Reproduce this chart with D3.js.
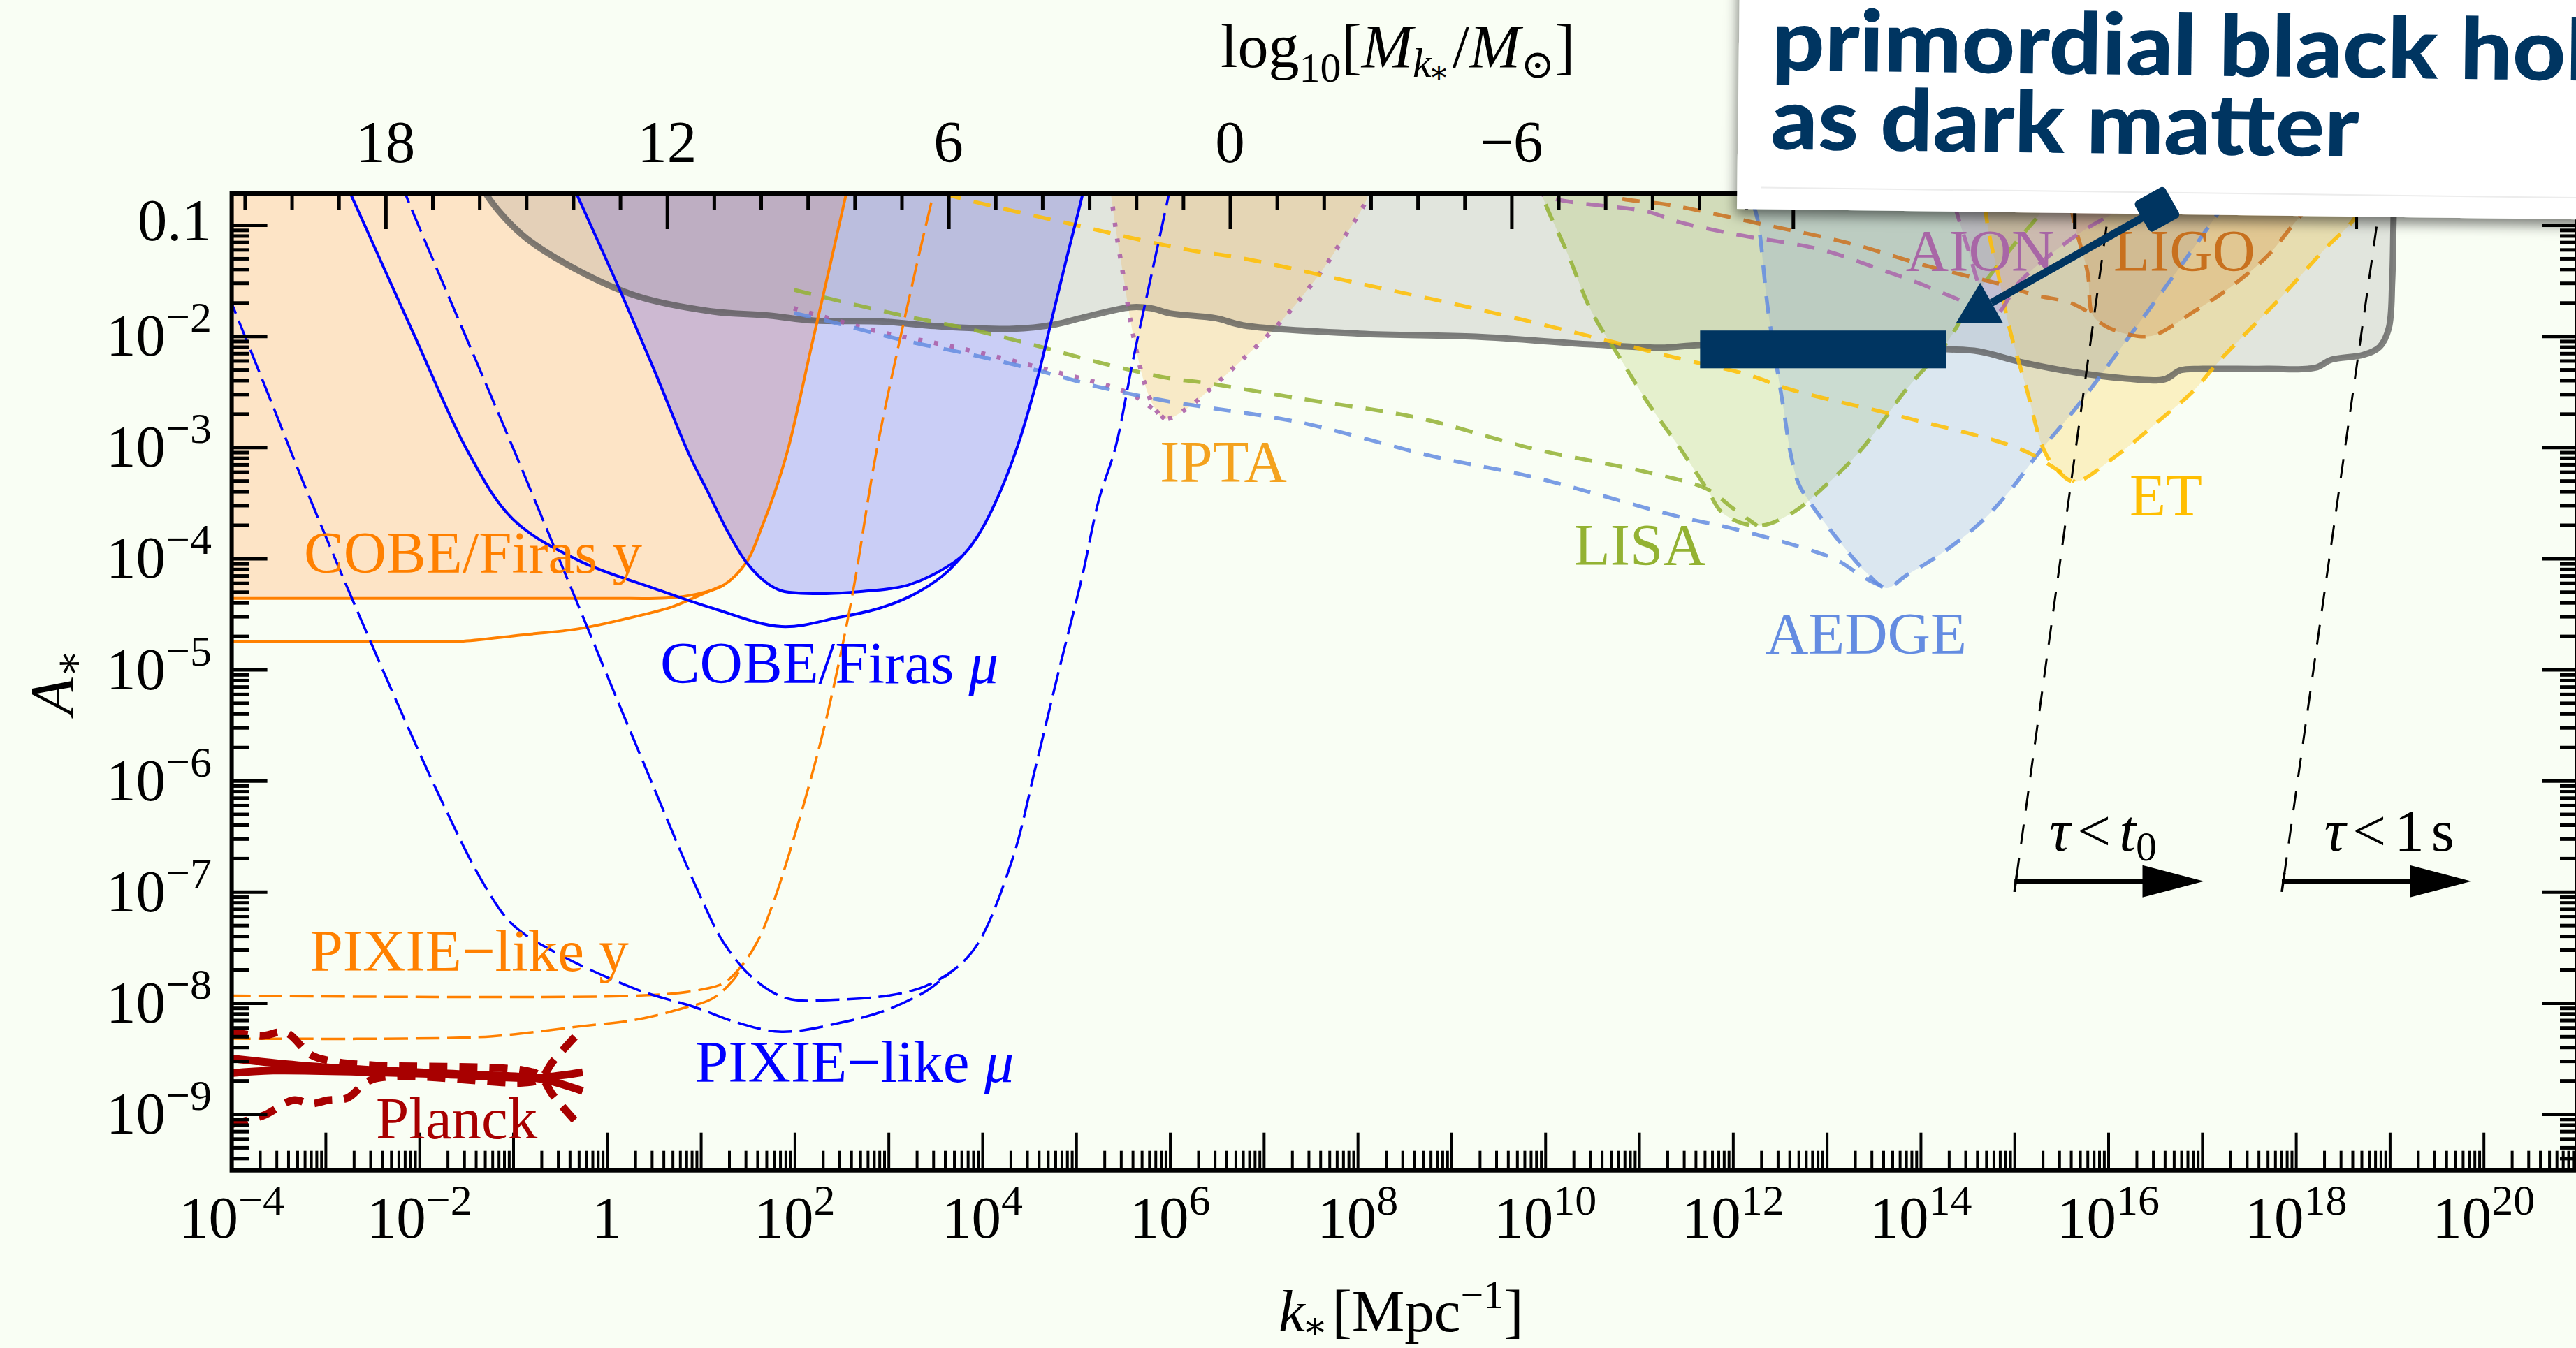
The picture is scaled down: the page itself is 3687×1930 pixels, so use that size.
<!DOCTYPE html>
<html>
<head>
<meta charset="utf-8">
<title>Power spectrum peak amplitude vs. scale</title>
<script src="https://cdn.jsdelivr.net/npm/d3@7"></script>
<style>
  html, body { margin: 0; padding: 0; background: #F9FEF4; }
  svg { display: block; }
  text { font-family: "Liberation Serif", "Times New Roman", "DejaVu Serif", serif; }
</style>
</head>
<body>
<svg id="fig" width="3687" height="1930"></svg>
<script>
// ---------------------------------------------------------------
// Curves: each point is [log10 k* / Mpc^-1, log10 A*]
// ---------------------------------------------------------------

// CMB spectral distortions: COBE/FIRAS y (filled) and its second curve
const cobeFirasY = [[-4.05,-4.36],[-2.0,-4.36],[0.0,-4.36],[0.63,-4.357],[0.94,-4.325],[1.245,-4.24],[1.49,-4.03],[1.65,-3.72],[1.8,-3.376],[1.935,-3.0],[2.18,-2.09],[2.377,-1.364],[2.55,-0.717],[2.6,-0.53]];
const cobeFirasYAlt = [[-4.05,-4.746],[-2.0,-4.746],[-1.53,-4.745],[-0.914,-4.69],[-0.296,-4.633],[0.322,-4.52],[0.694,-4.436],[0.94,-4.35],[1.245,-4.24]];

// COBE/FIRAS mu (filled) and its second curve
const cobeFirasMu = [[-0.43,-0.52],[-0.326,-0.717],[0.136,-1.584],[0.5,-2.3],[0.873,-3.061],[1.059,-3.376],[1.3,-3.78],[1.491,-4.042],[1.7,-4.22],[1.863,-4.293],[2.295,-4.318],[2.787,-4.293],[3.025,-4.272],[3.211,-4.24],[3.457,-4.155],[3.792,-3.973],[3.948,-3.803],[4.134,-3.508],[4.36,-3.03],[4.578,-2.412],[4.73,-1.886],[4.88,-1.364],[5.087,-0.66],[5.12,-0.52]];
const cobeFirasMuAlt = [[-2.8,-0.6],[-2.735,-0.717],[-2.05,-2.0],[-1.47,-3.06],[-1.0,-3.65],[-0.3,-4.02],[0.5,-4.27],[1.13,-4.45],[1.86,-4.614],[2.48,-4.53],[2.9,-4.45],[3.27,-4.325],[3.58,-4.155],[3.792,-3.973]];

// PIXIE-like forecasts
const pixieMu = [[-2.2,-0.6],[-2.15,-0.717],[-0.97,-3.07],[0.32,-5.70],[1.0,-7.05],[1.245,-7.46],[1.56,-7.78],[1.92,-7.96],[2.47,-7.97],[3.03,-7.93],[3.39,-7.85],[3.70,-7.70],[3.95,-7.47],[4.32,-6.71],[4.57,-5.87],[4.81,-5.03],[5.06,-4.18],[5.24,-3.48],[5.42,-3.0],[5.61,-2.2],[5.81,-1.42],[5.99,-0.717],[6.03,-0.55]];
const pixieMuAlt = [[-4.05,-1.6],[-3.565,-2.62],[-3.23,-3.33],[-2.52,-4.75],[-1.78,-6.15],[-1.3,-6.95],[-1.0,-7.3],[-0.54,-7.55],[0.32,-7.88],[0.94,-8.04],[1.4,-8.18],[1.86,-8.26],[2.48,-8.18],[2.96,-8.07],[3.39,-7.9],[3.58,-7.78],[3.70,-7.70]];
const pixieY = [[-4.05,-7.935],[0.32,-7.935],[0.94,-7.89],[1.245,-7.82],[1.45,-7.65],[1.62,-7.42],[1.75,-7.15],[1.923,-6.71],[2.295,-5.59],[2.6,-4.4],[2.88,-3.0],[3.29,-1.4],[3.48,-0.717],[3.53,-0.55]];
const pixieYAlt = [[-4.05,-8.321],[-2.15,-8.321],[-1.22,-8.30],[-0.296,-8.212],[0.322,-8.149],[0.81,-8.048],[1.126,-7.96],[1.35,-7.79],[1.45,-7.65]];

// Planck: two best-fit curves and the dashed envelope
const planckFitA = [[-4.02,-8.498],[-3.29,-8.561],[-2.493,-8.603],[-1.696,-8.635],[-0.899,-8.666],[-0.631,-8.697],[-0.259,-8.792]];
const planckFitB = [[-4.02,-8.634],[-3.558,-8.609],[-2.493,-8.624],[-1.696,-8.645],[-0.899,-8.676],[-0.631,-8.666],[-0.259,-8.624]];
const planckUpper = [[-4.02,-8.258],[-3.688,-8.297],[-3.424,-8.266],[-3.156,-8.467],[-2.895,-8.53],[-2.493,-8.561],[-0.899,-8.605],[-0.713,-8.656],[-0.579,-8.826],[-0.289,-9.109]];
const planckLower = [[-4.02,-9.095],[-3.662,-9.013],[-3.342,-8.875],[-3.156,-8.907],[-2.97,-8.875],[-2.768,-8.856],[-2.493,-8.687],[-0.899,-8.718],[-0.713,-8.687],[-0.579,-8.53],[-0.289,-8.258]];

// PBH abundance bound (grey)
const pbhBound = [[-1.37,-0.5],[-1.316,-0.68],[-0.914,-1.082],[-0.296,-1.415],[0.322,-1.641],[1.126,-1.779],[1.723,-1.815],[2.2,-1.86],[2.94,-1.87],[3.5,-1.91],[4.33,-1.935],[4.76,-1.898],[5.06,-1.836],[5.58,-1.741],[5.8,-1.75],[6.0,-1.796],[6.49,-1.84],[6.79,-1.905],[8.02,-1.978],[9.26,-2.006],[10.49,-2.075],[11.23,-2.104],[11.66,-2.08],[13.0,-2.1],[14.275,-2.119],[14.618,-2.137],[15.061,-2.232],[15.642,-2.326],[16.152,-2.379],[16.6,-2.389],[16.77,-2.307],[17.008,-2.295],[17.693,-2.295],[18.207,-2.285],[18.378,-2.213],[18.72,-2.169],[18.893,-2.097],[18.99,-1.93],[19.026,-1.509],[19.04,-0.967],[19.05,-0.6],[19.05,-0.4]];

// GW detector sensitivities: region and low-k tail
const iptaRegion = [[5.34,-0.55],[5.37,-0.717],[5.43,-1.082],[5.505,-1.469],[5.58,-1.867],[5.672,-2.244],[5.732,-2.433],[5.82,-2.62],[5.944,-2.745],[6.159,-2.664],[6.487,-2.433],[6.786,-2.2],[7.158,-1.892],[7.59,-1.446],[7.835,-1.138],[8.08,-0.8],[8.16,-0.6]];
const iptaTail = [[1.99,-1.75],[2.45,-1.86],[2.906,-1.962],[3.785,-2.113],[4.686,-2.301],[5.564,-2.513],[5.765,-2.621],[5.944,-2.745]];
const lisaRegion = [[9.92,-0.55],[9.96,-0.717],[10.247,-1.276],[10.493,-1.779],[10.798,-2.2],[11.11,-2.621],[11.417,-2.986],[11.723,-3.376],[11.894,-3.596],[12.259,-3.707],[12.624,-3.596],[12.99,-3.342],[13.36,-3.03],[13.845,-2.483],[14.275,-2.062],[14.58,-1.641],[14.827,-1.358],[15.066,-1.107],[15.266,-0.904],[15.385,-0.717],[15.45,-0.6]];
const lisaTail = [[1.995,-1.584],[2.451,-1.679],[3.151,-1.815],[3.851,-1.935],[4.581,-2.087],[5.273,-2.244],[6.003,-2.381],[6.368,-2.42],[7.404,-2.565],[8.64,-2.735],[9.9,-3.02],[11.112,-3.23],[11.723,-3.376],[12.0,-3.55],[12.259,-3.707]];
const aedgeRegion = [[12.16,-0.55],[12.18,-0.717],[12.26,-0.94],[12.376,-1.78],[12.533,-2.62],[12.62,-3.08],[12.7,-3.33],[12.81,-3.483],[13.055,-3.763],[13.42,-4.127],[13.635,-4.268],[13.845,-4.155],[14.217,-3.96],[14.64,-3.677],[14.946,-3.398],[15.25,-3.061],[15.68,-2.621],[16.294,-1.924],[16.9,-1.22],[17.146,-0.924],[17.33,-0.717],[17.4,-0.55]];
const aedgeTail = [[1.995,-1.792],[2.451,-1.886],[3.151,-2.037],[3.851,-2.161],[4.581,-2.307],[5.273,-2.464],[6.003,-2.59],[6.368,-2.638],[7.404,-2.78],[8.826,-3.087],[9.876,-3.27],[11.4,-3.62],[12.01,-3.734],[12.74,-3.904],[13.11,-4.017],[13.42,-4.184],[13.635,-4.268]];
const etRegion = [[14.66,-0.55],[14.67,-0.717],[14.73,-1.082],[14.827,-1.446],[14.946,-1.924],[15.132,-2.483],[15.31,-3.018],[15.45,-3.2],[15.64,-3.31],[16.05,-3.1],[16.6,-2.72],[16.9,-2.5],[17.21,-2.2],[17.82,-1.67],[18.305,-1.22],[18.617,-0.95],[18.75,-0.717],[18.82,-0.6]];
const etTail = [[3.3,-0.6],[3.39,-0.66],[5.118,-1.025],[6.168,-1.22],[6.785,-1.302],[8.021,-1.528],[9.257,-1.754],[10.493,-2.005],[11.417,-2.2],[12.147,-2.345],[12.624,-2.483],[13.845,-2.735],[15.066,-3.018],[15.45,-3.2],[15.64,-3.31]];
const ligoRegion = [[15.55,-0.55],[15.58,-0.717],[15.64,-0.99],[15.78,-1.43],[15.83,-1.804],[15.95,-1.9],[16.152,-1.972],[16.394,-2.004],[16.53,-1.98],[16.905,-1.784],[17.285,-1.572],[17.694,-1.281],[18.0,-0.967],[18.25,-0.717],[18.33,-0.6]];
const ligoTail = [[10.6,-0.6],[10.66,-0.717],[11.4,-0.83],[12.316,-0.994],[13.232,-1.163],[14.08,-1.371],[14.85,-1.534],[15.237,-1.635],[15.587,-1.697],[15.83,-1.804]];
const aionRegion = [[14.3,-0.55],[14.33,-0.717],[14.5,-1.2],[14.65,-1.6],[14.8,-1.8],[15.066,-1.503],[15.68,-1.082],[16.07,-0.89],[16.45,-0.717],[16.6,-0.6]];
const aionTail = [[9.9,-0.6],[9.95,-0.717],[11.11,-0.884],[11.4,-0.968],[12.01,-1.082],[12.93,-1.22],[13.54,-1.39],[13.935,-1.509],[14.48,-1.697],[14.8,-1.8]];

// PBH evaporation: lifetime equal to the age of the universe / to one second
const lifetimeAge = [[16.03,-0.717],[15.0,-7.0]];
const lifetimeSecond = [[18.91,-0.717],[17.85,-7.0]];
const arrowAge = [[15.0,-6.906],[17.02,-6.906]];
const arrowSecond = [[17.85,-6.906],[19.87,-6.906]];

// PBHs as all of the dark matter
const pbhDarkMatterK = [11.65, 14.27];
const pbhDarkMatterA = [-2.29, -1.95];
const calloutArrow = [[16.52,-0.86],[14.38,-1.88]];

// Axis ticks
const kLabelExps = [-4,-2,0,2,4,6,8,10,12,14,16,18,20];
const aLabelExps = [-1,-2,-3,-4,-5,-6,-7,-8,-9];
const massLabels = [18,12,6,0,-6];
const massOffset = 13.28; // log10(M/Msun) = massOffset - 2 log10 k

// ---------------------------------------------------------------
const W = 3687, H = 1930;
const BG = '#F9FEF4';
const plot = {left: 331.6, right: 3689, top: 277, bottom: 1675.7};

const x = d3.scaleLog().domain([1e-4, 1e21]).range([plot.left, plot.right]);
const y = d3.scaleLog().domain([10 ** -9.507, 10 ** -0.717]).range([plot.bottom, plot.top]);
const xm = d3.scaleLinear().domain([massOffset + 8, massOffset - 42]).range([plot.left, plot.right]);

const px = d => x(10 ** d[0]);
const py = d => y(10 ** d[1]);
const smooth = d3.line().x(px).y(py).curve(d3.curveCatmullRom.alpha(0.5));
const straight = d3.line().x(px).y(py);

function regionPath(b) {
  const f = b[0], l = b[b.length - 1];
  return smooth(b) + `L${px(l)},${plot.top - 300}L${px(f)},${plot.top - 300}Z`;
}

const svg = d3.select('#fig');
const defs = svg.append('defs');
defs.append('clipPath').attr('id', 'plotClip').append('rect')
  .attr('x', plot.left).attr('y', plot.top)
  .attr('width', plot.right - plot.left).attr('height', plot.bottom - plot.top);
const flt = defs.append('filter').attr('id', 'boxShadow')
  .attr('x', '-5%').attr('y', '-5%').attr('width', '115%').attr('height', '130%');
flt.append('feDropShadow').attr('dx', -2).attr('dy', 9).attr('stdDeviation', 9)
  .attr('flood-color', '#000').attr('flood-opacity', 0.5);

svg.append('rect').attr('width', W).attr('height', H).attr('fill', BG);

const ORANGE = '#FF8000', BLUE = '#0000FF', RED = '#A80000', NAVY = '#003561';

const detectors = [
  {region: iptaRegion,  tail: iptaTail,  stroke: '#A95AA6', fill: 'rgba(245,165,40,0.22)', dash: '6 17', width: 6.5},
  {region: lisaRegion,  tail: lisaTail,  stroke: '#93B232', fill: 'rgba(150,185,50,0.2)',  dash: '25 19', width: 5.5},
  {region: aedgeRegion, tail: aedgeTail, stroke: '#648CE1', fill: 'rgba(100,140,225,0.2)', dash: '25 19', width: 5.5},
  {region: etRegion,    tail: etTail,    stroke: '#FFBE00', fill: 'rgba(255,192,0,0.2)',   dash: '25 19', width: 5.5},
  {region: ligoRegion,  tail: ligoTail,  stroke: '#CD711E', fill: 'rgba(205,115,30,0.2)',  dash: '25 19', width: 5.5},
  {region: aionRegion,  tail: aionTail,  stroke: '#AA64AA', fill: 'rgba(170,100,170,0.18)', dash: '25 19', width: 5.5}
];

const g = svg.append('g').attr('clip-path', 'url(#plotClip)');

// filled exclusion / sensitivity regions
g.append('path').attr('d', regionPath(cobeFirasY)).attr('fill', '#FDE4C6');
g.append('path').attr('d', regionPath(cobeFirasMu)).attr('fill', 'rgba(30,30,255,0.21)');
g.append('path').attr('d', regionPath(pbhBound)).attr('fill', 'rgba(128,128,128,0.2)');
detectors.forEach(d => g.append('path').attr('d', regionPath(d.region)).attr('fill', d.fill));

// PBH bound line
g.append('path').attr('d', smooth(pbhBound)).attr('fill', 'none')
  .attr('stroke', 'rgba(80,80,80,0.72)').attr('stroke-width', 9).attr('stroke-linejoin', 'round');

// detector curves
detectors.forEach(d => {
  [d.tail, d.region].forEach(c => g.append('path').attr('d', smooth(c)).attr('fill', 'none')
    .attr('stroke', d.stroke).attr('stroke-opacity', 0.85).attr('stroke-width', d.width)
    .attr('stroke-dasharray', d.dash));
});

// spectral distortion curves
const distortion = [
  {c: cobeFirasY, s: ORANGE, dash: null}, {c: cobeFirasYAlt, s: ORANGE, dash: null},
  {c: cobeFirasMu, s: BLUE, dash: null}, {c: cobeFirasMuAlt, s: BLUE, dash: null},
  {c: pixieY, s: ORANGE, dash: '34 11'}, {c: pixieYAlt, s: ORANGE, dash: '34 11'},
  {c: pixieMu, s: BLUE, dash: '34 11'}, {c: pixieMuAlt, s: BLUE, dash: '34 11'}
];
distortion.forEach(d => g.append('path').attr('d', smooth(d.c)).attr('fill', 'none')
  .attr('stroke', d.s).attr('stroke-width', d.dash ? 3.5 : 4)
  .attr('stroke-dasharray', d.dash));

// Planck
[planckUpper, planckLower].forEach(c => g.append('path').attr('d', smooth(c)).attr('fill', 'none')
  .attr('stroke', RED).attr('stroke-width', 11).attr('stroke-dasharray', '26 17'));
[planckFitA, planckFitB].forEach(c => g.append('path').attr('d', smooth(c)).attr('fill', 'none')
  .attr('stroke', RED).attr('stroke-width', 11));

// evaporation lines and arrows
[lifetimeAge, lifetimeSecond].forEach(c => {
  g.append('path').attr('d', straight(c)).attr('fill', 'none')
    .attr('stroke', '#000').attr('stroke-width', 3).attr('stroke-dasharray', '28 20');
  const t = (-6.83 - c[0][1]) / (c[1][1] - c[0][1]);
  const top = [c[0][0] + t * (c[1][0] - c[0][0]), -6.83];
  g.append('path').attr('d', straight([top, c[1]])).attr('stroke', '#000').attr('stroke-width', 3.5);
});
[arrowAge, arrowSecond].forEach(a => {
  const x0 = px(a[0]), x1 = px(a[1]), yy = py(a[0]);
  g.append('line').attr('x1', x0).attr('x2', x1 - 70).attr('y1', yy).attr('y2', yy)
    .attr('stroke', '#000').attr('stroke-width', 7);
  g.append('path').attr('d', `M${x1},${yy}L${x1 - 88},${yy - 23}L${x1 - 88},${yy + 23}Z`).attr('fill', '#000');
});

// dark matter window
g.append('rect')
  .attr('x', x(10 ** pbhDarkMatterK[0])).attr('width', x(10 ** pbhDarkMatterK[1]) - x(10 ** pbhDarkMatterK[0]))
  .attr('y', y(10 ** pbhDarkMatterA[1])).attr('height', y(10 ** pbhDarkMatterA[0]) - y(10 ** pbhDarkMatterA[1]))
  .attr('fill', NAVY);

// ---------------- axes ----------------
const kMajor = [], kMinor = [];
for (let e = -4; e <= 21; e++) { kMajor.push(10 ** e); if (e < 21) for (let m = 2; m <= 9; m++) kMinor.push(m * 10 ** e); }
const aMajor = [], aMinor = [];
for (let e = -10; e <= -1; e++) { aMajor.push(10 ** e); for (let m = 2; m <= 9; m++) aMinor.push(m * 10 ** e); }
const inA = v => v >= y.domain()[0] && v <= y.domain()[1];
const mMajor = [], mMinor = [];
for (let m = 21; m >= -28; m--) (m % 6 === 0 ? mMajor : mMinor).push(m);

function drawAxis(axis, transform, width) {
  const a = svg.append('g').attr('transform', transform).call(axis);
  a.select('.domain').remove();
  a.selectAll('.tick line').attr('stroke', '#000').attr('stroke-width', width);
  a.selectAll('.tick text').remove();
}
drawAxis(d3.axisBottom(x).tickValues(kMinor).tickSize(-28).tickFormat(''), `translate(0,${plot.bottom})`, 4);
drawAxis(d3.axisBottom(x).tickValues(kMajor).tickSize(-54).tickFormat(''), `translate(0,${plot.bottom})`, 4);
drawAxis(d3.axisLeft(y).tickValues(aMinor.filter(inA)).tickSize(-25).tickFormat(''), `translate(${plot.left},0)`, 5);
drawAxis(d3.axisLeft(y).tickValues(aMajor.filter(inA)).tickSize(-51).tickFormat(''), `translate(${plot.left},0)`, 5);
drawAxis(d3.axisRight(y).tickValues(aMinor.filter(inA)).tickSize(-25).tickFormat(''), `translate(${plot.right},0)`, 5);
drawAxis(d3.axisRight(y).tickValues(aMajor.filter(inA)).tickSize(-51).tickFormat(''), `translate(${plot.right},0)`, 5);
drawAxis(d3.axisTop(xm).tickValues(mMinor).tickSize(-24).tickFormat(''), `translate(0,${plot.top})`, 5);
drawAxis(d3.axisTop(xm).tickValues(mMajor).tickSize(-51).tickFormat(''), `translate(0,${plot.top})`, 5);

svg.append('rect').attr('x', plot.left).attr('y', plot.top)
  .attr('width', plot.right - plot.left).attr('height', plot.bottom - plot.top)
  .attr('fill', 'none').attr('stroke', '#000').attr('stroke-width', 6);

const minus = s => String(s).replace('-', '\u2212');
const FS = 85, SUP = 62;

// bottom tick labels
kLabelExps.forEach(e => {
  const t = svg.append('text').attr('x', x(10 ** e)).attr('y', 1772)
    .attr('text-anchor', 'middle').attr('font-size', FS);
  if (e === 0) { t.text('1'); return; }
  t.append('tspan').text('10');
  t.append('tspan').attr('font-size', SUP).attr('dy', -33).text(minus(e));
});
// left tick labels
aLabelExps.forEach(e => {
  const t = svg.append('text').attr('x', 303).attr('y', y(10 ** e) + (e === -1 ? 22 : 28))
    .attr('text-anchor', 'end').attr('font-size', FS);
  if (e === -1) { t.text('0.1'); return; }
  t.append('tspan').text('10');
  t.append('tspan').attr('font-size', SUP).attr('dy', -34).text(minus(e));
});
// top tick labels
massLabels.forEach(m => svg.append('text').attr('x', xm(m)).attr('y', 232)
  .attr('text-anchor', 'middle').attr('font-size', FS).text(minus(m)));

// axis titles
{
  const t = svg.append('text').attr('x', 1747).attr('y', 96).attr('font-size', 88);
  t.append('tspan').text('log');
  t.append('tspan').attr('font-size', 60).attr('dy', 21).text('10');
  t.append('tspan').attr('dy', -21).text('[');
  t.append('tspan').attr('font-style', 'italic').text('M');
  t.append('tspan').attr('font-style', 'italic').attr('font-size', 60).attr('dy', 14).text('k');
  t.append('tspan').attr('font-size', 44).attr('dy', 8).attr('dx', -4).text('\u2217');
  t.append('tspan').attr('dy', -22).attr('dx', 4).text('/');
  t.append('tspan').attr('font-style', 'italic').text('M');
  t.append('tspan').attr('font-size', 58).attr('dy', 16).text('\u2299');
  t.append('tspan').attr('dy', -16).text(']');
}
{
  const t = svg.append('text').attr('x', 1830).attr('y', 1906).attr('font-size', 85);
  t.append('tspan').attr('font-style', 'italic').text('k');
  t.append('tspan').attr('font-size', 54).attr('dy', 10).attr('dx', -4).text('\u2217');
  t.append('tspan').attr('dy', -10).attr('dx', 6).text('[Mpc');
  t.append('tspan').attr('font-size', 58).attr('dy', -33).text('\u22121');
  t.append('tspan').attr('dy', 33).text(']');
}
{
  const t = svg.append('text').attr('transform', 'translate(104,1024) rotate(-90)').attr('font-size', 88);
  t.append('tspan').attr('font-style', 'italic').text('A');
  t.append('tspan').attr('font-size', 60).attr('dy', 14).text('\u2217');
}

// curve labels (anchored in data units)
const labels = [
  {p: [-3.23, -4.13], c: ORANGE, parts: [['COBE/Firas y']]},
  {p: [0.567, -5.123], c: BLUE, parts: [['COBE/Firas '], ['\u03bc', 'italic']]},
  {p: [-3.167, -7.713], c: ORANGE, parts: [['PIXIE\u2212like y']]},
  {p: [0.94, -8.712], c: BLUE, parts: [['PIXIE\u2212like '], ['\u03bc', 'italic']]},
  {p: [-2.463, -9.221], c: RED, parts: [['Planck']]},
  {p: [5.891, -3.313], c: '#F4A21E', parts: [['IPTA']]},
  {p: [10.306, -4.058], c: '#93B232', parts: [['LISA']]},
  {p: [12.347, -4.857], c: '#648CE1', parts: [['AEDGE']]},
  {p: [16.227, -3.615], c: '#FFBE00', parts: [['ET']]},
  {p: [13.843, -1.415], c: '#A866A6', parts: [['AION']]},
  {p: [16.055, -1.415], c: '#C8701E', parts: [['LIGO']]}
];
labels.forEach(l => {
  const t = svg.append('text').attr('x', px(l.p)).attr('y', py(l.p)).attr('font-size', FS).attr('fill', l.c);
  l.parts.forEach(([s, st]) => t.append('tspan').attr('font-style', st || 'normal').text(s));
});
[[15.37, -6.631, 't', '0'], [18.303, -6.631, '1s', null]].forEach(([k, a, v, sub]) => {
  const t = svg.append('text').attr('x', px([k, a])).attr('y', py([k, a])).attr('font-size', FS);
  t.append('tspan').attr('font-style', 'italic').text('\u03c4');
  t.append('tspan').attr('dx', 10).text('<');
  if (sub) {
    t.append('tspan').attr('dx', 12).attr('font-style', 'italic').text(v);
    t.append('tspan').attr('font-size', 60).attr('dy', 14).text(sub);
  } else {
    t.append('tspan').attr('dx', 12).text('1');
    t.append('tspan').attr('dx', 10).text('s');
  }
});

// ---------------- callout ----------------
const callout = svg.append('g').attr('transform', 'rotate(0.72, 2486, 299)');
callout.append('rect').attr('x', 2486).attr('y', -400).attr('width', 1500).attr('height', 699)
  .attr('fill', '#FFFFFF').attr('filter', 'url(#boxShadow)');
callout.append('line').attr('x1', 2520).attr('x2', 3800).attr('y1', 268).attr('y2', 268)
  .attr('stroke', '#ECECEC').attr('stroke-width', 2);
const calloutText = callout.append('g').attr('fill', NAVY)
  .style('font-family', 'Lato, "Open Sans", "DejaVu Sans", sans-serif').attr('font-weight', 900).attr('font-size', 122);
calloutText.append('text').attr('x', 2533).attr('y', 100).attr('textLength', 1300).attr('lengthAdjust', 'spacingAndGlyphs')
  .style('font-family', 'Lato, "Open Sans", "DejaVu Sans", sans-serif').text('primordial black holes');
calloutText.append('text').attr('x', 2533).attr('y', 213).attr('textLength', 842).attr('lengthAdjust', 'spacingAndGlyphs')
  .style('font-family', 'Lato, "Open Sans", "DejaVu Sans", sans-serif').text('as dark matter');

{
  const [tx, ty] = [px(calloutArrow[0]), py(calloutArrow[0])];
  const [hx, hy] = [px(calloutArrow[1]), py(calloutArrow[1])];
  const ang = Math.atan2(hy - ty, hx - tx);
  const L = 58, half = 33;
  const bx = hx - L * Math.cos(ang), by = hy - L * Math.sin(ang);
  svg.append('line').attr('x1', tx).attr('y1', ty).attr('x2', bx).attr('y2', by)
    .attr('stroke', NAVY).attr('stroke-width', 11);
  svg.append('path').attr('fill', NAVY)
    .attr('d', `M${hx},${hy}L${bx + half * Math.sin(ang)},${by - half * Math.cos(ang)}L${bx - half * Math.sin(ang)},${by + half * Math.cos(ang)}Z`);
  svg.append('rect').attr('x', tx - 25).attr('y', ty - 25).attr('width', 50).attr('height', 50).attr('rx', 6)
    .attr('fill', NAVY).attr('transform', `rotate(${ang * 180 / Math.PI + 180}, ${tx}, ${ty})`);
}
</script>
</body>
</html>
